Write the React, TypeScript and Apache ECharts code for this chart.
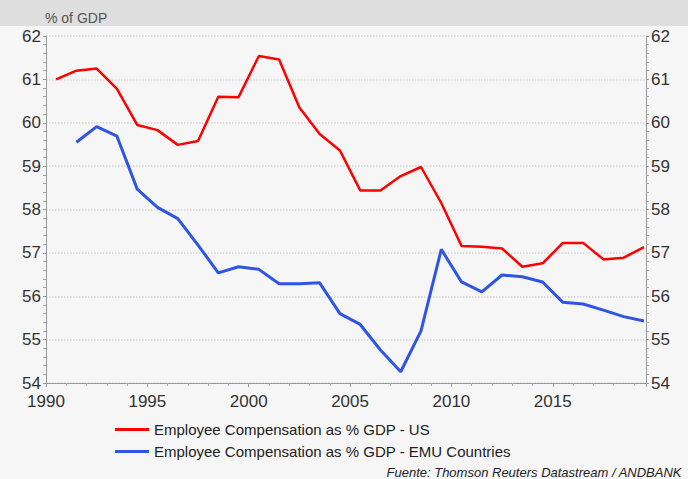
import React, { useEffect, useRef } from "react";
import * as echarts from "echarts";

const years = [1990.5,1991.5,1992.5,1993.5,1994.5,1995.5,1996.5,1997.5,1998.5,1999.5,2000.5,2001.5,2002.5,2003.5,2004.5,2005.5,2006.5,2007.5,2008.5,2009.5,2010.5,2011.5,2012.5,2013.5,2014.5,2015.5,2016.5,2017.5,2018.5,2019.5];
const usValues = [61.0,61.2,61.25,60.78,59.95,59.83,59.49,59.58,60.6,60.59,61.54,61.46,60.35,59.74,59.36,58.44,58.44,58.77,58.98,58.15,57.16,57.14,57.1,56.68,56.76,57.23,57.23,56.85,56.89,57.13];
const emuValues = [null,59.55,59.91,59.69,58.47,58.05,57.79,57.18,56.54,56.68,56.62,56.29,56.29,56.31,55.6,55.35,54.76,54.26,55.2,57.08,56.33,56.1,56.49,56.45,56.33,55.86,55.82,55.68,55.53,55.43];
const seriesNames = ["Employee Compensation as % GDP - US", "Employee Compensation as % GDP - EMU Countries"];
const xTickLabels = [1990, 1995, 2000, 2005, 2010, 2015];

export default function App() {
  const ref = useRef<HTMLDivElement>(null);
  useEffect(() => {
    const chart = echarts.init(ref.current!, null, { renderer: "svg" });
    const font = "Liberation Sans, Arial, sans-serif";
    const yAxisBase = {
      type: "value",
      min: 54,
      max: 62,
      interval: 1,
      axisLine: { show: true, lineStyle: { color: "#999" } },
      axisTick: { show: true, length: 3, lineStyle: { color: "#999" } },
      minorTick: { show: true, splitNumber: 5, length: 3, lineStyle: { color: "#aaa" } },
      axisLabel: { fontSize: 17, color: "#333", fontFamily: font, margin: 5 },
    };
    chart.setOption({
      animation: false,
      backgroundColor: "#f6f6f6",
      textStyle: { fontFamily: font },
      graphic: [
        { type: "rect", shape: { x: 0, y: 0, width: 688, height: 26 }, style: { fill: "#dedede" }, z: -1 },
        { type: "text", left: 45, top: 11, style: { text: "% of GDP", fontSize: 14, fill: "#555", fontFamily: font } },
        { type: "text", right: 6, top: 466, style: { text: "Fuente: Thomson Reuters Datastream / ANDBANK", fontSize: 13, fontStyle: "italic", fill: "#222", fontFamily: font } },
      ],
      grid: { left: 46, right: 42, top: 36, bottom: 96 },
      legend: {
        orient: "vertical",
        left: 110,
        top: 417,
        itemWidth: 34,
        itemHeight: 3,
        itemGap: 7,
        icon: "rect",
        textStyle: { fontSize: 15, color: "#222", fontFamily: font },
        data: seriesNames,
      },
      xAxis: {
        type: "value",
        min: 1990,
        max: 2019.6,
        interval: 5,
        axisLine: { show: true, onZero: false, lineStyle: { color: "#999" } },
        axisTick: { show: true, length: 4, lineStyle: { color: "#999" } },
        minorTick: { show: true, splitNumber: 5, length: 3, lineStyle: { color: "#aaa" } },
        splitLine: { show: false },
        axisLabel: {
          fontSize: 17,
          color: "#333",
          fontFamily: font,
          margin: 10,
          showMaxLabel: false,
          formatter: (v: number) => (xTickLabels.indexOf(v) >= 0 ? String(v) : ""),
        },
      },
      yAxis: [
        { ...yAxisBase, position: "left", splitLine: { show: true, lineStyle: { color: "#d6d6d6", type: "dotted", width: 1.5 } } },
        { ...yAxisBase, position: "right", splitLine: { show: false } },
      ],
      series: [
        {
          name: seriesNames[0],
          type: "line",
          data: years.map((y, i) => [y, usValues[i]]),
          showSymbol: false,
          lineStyle: { color: "#ff0000", width: 2.5 },
          itemStyle: { color: "#ff0000" },
        },
        {
          name: seriesNames[1],
          type: "line",
          data: years.map((y, i) => [y, emuValues[i]]).filter((d) => d[1] !== null),
          showSymbol: false,
          lineStyle: { color: "#2f55e4", width: 3 },
          itemStyle: { color: "#2f55e4" },
        },
      ],
    });
    return () => chart.dispose();
  }, []);
  return <div ref={ref} style={{ position: "fixed", left: 0, top: 0, width: 688, height: 479 }} />;
}
